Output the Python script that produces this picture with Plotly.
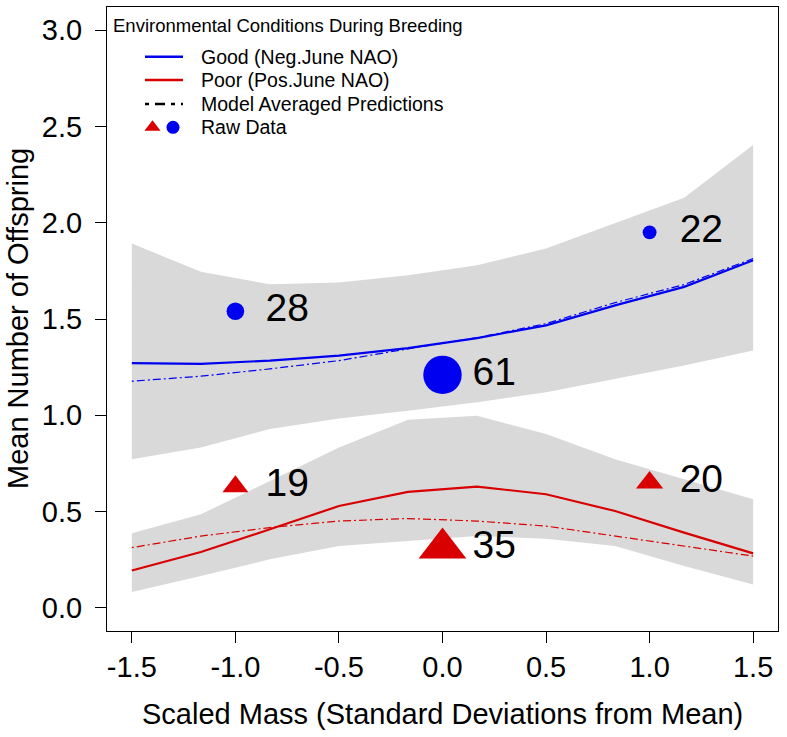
import plotly.graph_objects as go

# ---------------- data ----------------
x_grid = [-1.5, -1.1667, -0.8333, -0.5, -0.1667, 0.1667, 0.5, 0.8333, 1.1667, 1.5]

good_upper = [1.892, 1.745, 1.680, 1.689, 1.727, 1.779, 1.866, 1.996, 2.130, 2.404]
good_lower = [0.772, 0.833, 0.929, 0.984, 1.024, 1.068, 1.120, 1.189, 1.258, 1.336]
good_fit = [1.271, 1.267, 1.284, 1.310, 1.349, 1.401, 1.467, 1.571, 1.667, 1.805]
good_avg = [1.177, 1.203, 1.241, 1.284, 1.345, 1.403, 1.476, 1.585, 1.679, 1.814]

poor_upper = [0.387, 0.486, 0.659, 0.833, 0.977, 0.998, 0.903, 0.772, 0.668, 0.564]
poor_lower = [0.083, 0.165, 0.252, 0.321, 0.347, 0.373, 0.359, 0.321, 0.217, 0.121]
poor_fit = [0.194, 0.290, 0.408, 0.529, 0.602, 0.630, 0.590, 0.503, 0.391, 0.283]
poor_avg = [0.313, 0.373, 0.417, 0.451, 0.464, 0.451, 0.425, 0.373, 0.321, 0.269]

raw_x = [-1.0, 0.0, 1.0]
good_raw = [1.54, 1.21, 1.95]
good_n = [28, 61, 22]
poor_raw = [0.63, 0.31, 0.65]
poor_n = [19, 35, 20]

x_ticks = [-1.5, -1.0, -0.5, 0.0, 0.5, 1.0, 1.5]
y_ticks = [0.0, 0.5, 1.0, 1.5, 2.0, 2.5, 3.0]

x_title = "Scaled Mass (Standard Deviations from Mean)"
y_title = "Mean Number of Offspring"
legend_title = "Environmental Conditions During Breeding"
legend_labels = ["Good (Neg.June NAO)", "Poor (Pos.June NAO)",
                 "Model Averaged Predictions", "Raw Data"]

# ---------------- style ----------------
FONT = "Liberation Sans, Arial, Helvetica, sans-serif"
BLUE = "#0000F0"
RED = "#D80000"
GREY = "#D9D9D9"
DASHDOT = "2px,3px,8px,3px"
LABEL_DX = 0.25

fig = go.Figure()

def band(lower, upper):
    fig.add_trace(go.Scatter(
        x=x_grid + x_grid[::-1], y=upper + lower[::-1],
        fill="toself", fillcolor=GREY, line=dict(width=0),
        mode="lines", hoverinfo="skip", showlegend=False))

band(good_lower, good_upper)
band(poor_lower, poor_upper)

fig.add_trace(go.Scatter(x=x_grid, y=good_avg, mode="lines",
                         line=dict(color=BLUE, width=1.2, dash=DASHDOT), showlegend=False))
fig.add_trace(go.Scatter(x=x_grid, y=poor_avg, mode="lines",
                         line=dict(color=RED, width=1.2, dash=DASHDOT), showlegend=False))
fig.add_trace(go.Scatter(x=x_grid, y=good_fit, mode="lines",
                         line=dict(color=BLUE, width=2.2), showlegend=False))
fig.add_trace(go.Scatter(x=x_grid, y=poor_fit, mode="lines",
                         line=dict(color=RED, width=2.2), showlegend=False))

fig.add_trace(go.Scatter(x=raw_x, y=good_raw, mode="markers",
                         marker=dict(symbol="circle", color=BLUE, opacity=1,
                                     size=[n * 0.63 for n in good_n], line=dict(width=0)),
                         showlegend=False, cliponaxis=False))
fig.add_trace(go.Scatter(x=raw_x, y=poor_raw, mode="markers",
                         marker=dict(symbol="triangle-up", color=RED, opacity=1,
                                     size=[n * 1.18 for n in poor_n], line=dict(width=0)),
                         showlegend=False, cliponaxis=False))

fig.add_trace(go.Scatter(x=[v + LABEL_DX for v in raw_x], y=good_raw, mode="text",
                         text=[str(n) for n in good_n], textposition="middle center",
                         textfont=dict(family=FONT, size=39, color="black"),
                         showlegend=False, cliponaxis=False))
fig.add_trace(go.Scatter(x=[v + LABEL_DX for v in raw_x], y=poor_raw, mode="text",
                         text=[str(n) for n in poor_n], textposition="middle center",
                         textfont=dict(family=FONT, size=39, color="black"),
                         showlegend=False, cliponaxis=False))

# ---------------- manual legend (pixel-like overlay axes) ----------------
L_X0, L_X1 = 145, 183
L_TEXT_X = 200
L_ROWS = [56.7, 80.0, 104.0, 127.3]
leg_colors = [BLUE, RED, "black"]
leg_dash = ["solid", "solid", "4px,6px,10px,6px"]
for i in range(3):
    fig.add_trace(go.Scatter(x=[L_X0, L_X1], y=[L_ROWS[i], L_ROWS[i]], mode="lines",
                             line=dict(color=leg_colors[i], width=2.4, dash=leg_dash[i]),
                             xaxis="x2", yaxis="y2", showlegend=False, hoverinfo="skip"))
fig.add_trace(go.Scatter(x=[152.5], y=[L_ROWS[3]], mode="markers",
                         marker=dict(symbol="triangle-up", color=RED, size=14, opacity=1,
                                     line=dict(width=0)),
                         xaxis="x2", yaxis="y2", showlegend=False, hoverinfo="skip"))
fig.add_trace(go.Scatter(x=[173], y=[L_ROWS[3]], mode="markers",
                         marker=dict(symbol="circle", color=BLUE, size=13, opacity=1,
                                     line=dict(width=0)),
                         xaxis="x2", yaxis="y2", showlegend=False, hoverinfo="skip"))

annotations = [dict(x=110.5, y=25, xref="x2", yref="y2", text=legend_title,
                    showarrow=False, xanchor="left", yanchor="middle",
                    font=dict(family=FONT, size=18.5, color="black"))]
for lab, yy in zip(legend_labels, L_ROWS):
    annotations.append(dict(x=L_TEXT_X - 1, y=yy, xref="x2", yref="y2", text=lab,
                            showarrow=False, xanchor="left", yanchor="middle",
                            font=dict(family=FONT, size=19.5, color="black")))

# axis titles (paper coordinates relative to the plot area)
annotations.append(dict(x=0.5, y=-0.133, xref="paper", yref="paper", text=x_title,
                        showarrow=False, xanchor="center", yanchor="middle",
                        font=dict(family=FONT, size=29, color="black")))
annotations.append(dict(x=-0.1326, y=0.5, xref="paper", yref="paper", text=y_title,
                        showarrow=False, xanchor="center", yanchor="middle", textangle=-90,
                        borderpad=0,
                        font=dict(family=FONT, size=29, color="black")))

axis_common = dict(showgrid=False, zeroline=False, showline=True, mirror=True,
                   linecolor="black", linewidth=1, ticks="outside", ticklen=11,
                   tickcolor="black", tickwidth=1, automargin=False,
                   tickfont=dict(family=FONT, size=29, color="black"))

fig.update_layout(
    width=787, height=737,
    margin=dict(l=107, r=9, t=7, b=106),
    paper_bgcolor="white", plot_bgcolor="white",
    showlegend=False,
    font=dict(family=FONT, color="black"),
    xaxis=dict(range=[-1.62, 1.62], tickvals=x_ticks,
               ticktext=[f"{v:.1f}" for v in x_ticks],
               ticklabelstandoff=-1,
               **axis_common),
    yaxis=dict(range=[-0.12, 3.12], tickvals=y_ticks,
               ticktext=[f"{v:.1f}" for v in y_ticks],
               ticklabelstandoff=7,
               **axis_common),
    xaxis2=dict(range=[107, 778], overlaying="x", visible=False, anchor="y2"),
    yaxis2=dict(range=[631, 7], overlaying="y", visible=False, anchor="x2"),
    annotations=annotations,
)

fig.write_html("out.html", config={"displayModeBar": False},
               post_script="document.body.style.margin='0';document.body.style.padding='0';")
